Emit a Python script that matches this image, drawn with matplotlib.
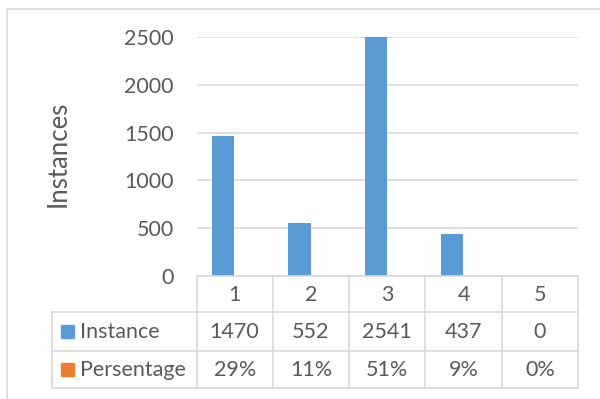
import matplotlib
matplotlib.use("Agg")
import matplotlib.pyplot as plt
from matplotlib.lines import Line2D
from matplotlib.patches import Rectangle

categories = ["1", "2", "3", "4", "5"]
instances = [1470, 552, 2541, 437, 0]
percent_values = [0.29, 0.11, 0.51, 0.09, 0.0]
percentages = ["29%", "11%", "51%", "9%", "0%"]
series_names = ["Instance", "Persentage"]
y_ticks = [0, 500, 1000, 1500, 2000, 2500]

W, H = 600, 399
plt.rcParams['font.family'] = ['Lato', 'DejaVu Sans']
TXT = '#595959'
GRID = '#d9d9d9'
BLUE = '#5b9bd5'
ORANGE = '#ed7d31'
FS = 15.5

fig = plt.figure(figsize=(W/100, H/100), dpi=100)

def fx(px): return px / W
def fy(py): return 1 - py / H

# outer border
fig.add_artist(Rectangle((fx(6.5), fy(420)), fx(620), fy(8.5) - fy(420),
                         transform=fig.transFigure, fill=False, edgecolor=GRID, lw=1.2))

ax = fig.add_axes([fx(196.5), fy(275.8), fx(578) - fx(196.5), fy(37.3) - fy(275.8)])
x = list(range(len(categories)))
bw = 0.29
ax.bar([i - bw / 2 - 0.005 for i in x], instances, width=bw, color=BLUE, zorder=3)
ax.bar([i + bw / 2 + 0.005 for i in x], percent_values, width=bw, color=ORANGE, zorder=3)
ax.set_xlim(-0.5, len(categories) - 0.5)
ax.set_ylim(0, 2500)
ax.set_yticks(y_ticks)
ax.set_yticklabels([str(t) for t in y_ticks], fontsize=FS, color=TXT)
ax.tick_params(axis='y', length=0, pad=16.5)
ax.set_xticks([])
ax.grid(axis='y', color=GRID, lw=1.2, zorder=0)
for s in ax.spines.values():
    s.set_visible(False)
fig.text(fx(58.5), fy(154), "Instances", rotation=90, fontsize=18.5, color=TXT,
         ha='center', va='center')

# table
col_edges = [196.5 + i * (578 - 196.5) / len(categories) for i in range(len(categories) + 1)]
row_edges = [275.8, 312, 350.5, 388]
tab_left = 52.3

def hline(y, x0, x1):
    fig.add_artist(Line2D([fx(x0), fx(x1)], [fy(y), fy(y)], transform=fig.transFigure, color=GRID, lw=1.2))

def vline(xp, y0, y1):
    fig.add_artist(Line2D([fx(xp), fx(xp)], [fy(y0), fy(y1)], transform=fig.transFigure, color=GRID, lw=1.2))

hline(row_edges[0], col_edges[0], col_edges[-1])
for y in row_edges[1:]:
    hline(y, tab_left, col_edges[-1])
for xe in col_edges:
    vline(xe, row_edges[0], row_edges[-1])
vline(tab_left, row_edges[1], row_edges[-1])

def cy(i): return fy((row_edges[i] + row_edges[i + 1]) / 2 + 1)

for j, c in enumerate(categories):
    cx = fx((col_edges[j] + col_edges[j + 1]) / 2)
    fig.text(cx, cy(0), c, ha='center', va='center', fontsize=FS, color=TXT)
    fig.text(cx, cy(1), str(instances[j]), ha='center', va='center', fontsize=FS, color=TXT)
    fig.text(cx, cy(2), percentages[j], ha='center', va='center', fontsize=FS, color=TXT)

for i, (name, col) in enumerate(zip(series_names, [BLUE, ORANGE])):
    yc = (row_edges[i + 1] + row_edges[i + 2]) / 2
    fig.add_artist(Rectangle((fx(61), fy(yc + 6.5)), fx(13), fy(yc - 6.5) - fy(yc + 6.5),
                             transform=fig.transFigure, color=col))
    fig.text(fx(80), cy(i + 1), name, ha='left', va='center', fontsize=FS, color=TXT)

fig.savefig("out.png", dpi=100)
